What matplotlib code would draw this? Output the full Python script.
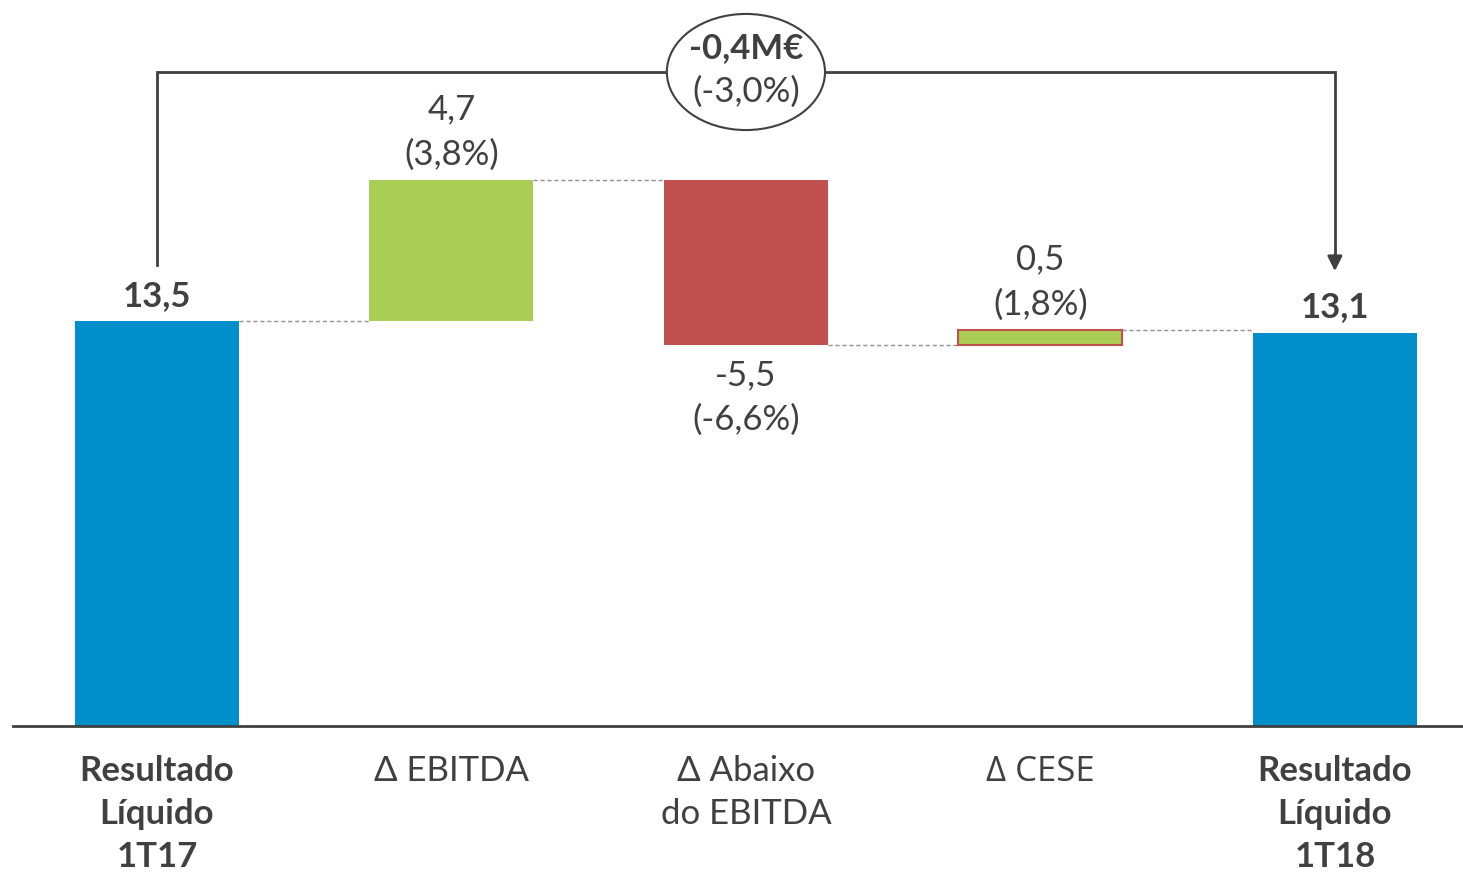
import matplotlib
matplotlib.use("Agg")
import matplotlib.pyplot as plt
from matplotlib.patches import Ellipse

categories = ["Resultado\nLíquido\n1T17", "Δ EBITDA", "Δ Abaixo\ndo EBITDA", "Δ CESE", "Resultado\nLíquido\n1T18"]
values = [13.5, 4.7, -5.5, 0.5, 13.1]
pct_labels = ["", "(3,8%)", "(-6,6%)", "(1,8%)", ""]
value_labels = ["13,5", "4,7", "-5,5", "0,5", "13,1"]
total_change = "-0,4M€"
total_pct = "(-3,0%)"

BLUE = "#008FCB"
GREEN = "#AACD55"
RED = "#C0504D"
TXT = "#404040"
FONT = ["Lato", "DejaVu Sans"]
FS = 25

plt.rcParams['font.family'] = FONT

fig = plt.figure(figsize=(14.63, 8.75), dpi=100)
ax = fig.add_axes([0, 0, 1, 1])
ax.set_xlim(-0.533, 4.435)
ax.set_ylim(-4.967, 24.2)
ax.axis("off")

w = 0.557
bottoms = []
tops = []
running = 0.0
for i, v in enumerate(values):
    if i == 0 or i == len(values) - 1:
        bottoms.append(0.0)
        tops.append(v)
        running = v
    else:
        start = running
        end = running + v
        bottoms.append(min(start, end))
        tops.append(max(start, end))
        running = end

colors = [BLUE, GREEN, RED, GREEN, BLUE]
edges = [BLUE, GREEN, RED, RED, BLUE]
x = list(range(len(values)))
ax.bar(x, [t - b for t, b in zip(tops, bottoms)], bottom=bottoms, width=w,
       color=colors, edgecolor=edges, linewidth=[0, 0, 0, 1.5, 0], zorder=3)

# connectors
levels = []
running = 0.0
for i, v in enumerate(values[:-1]):
    running = v if i == 0 else running + v
    levels.append(running)
for i, lev in enumerate(levels):
    ax.plot([i + w / 2, i + 1 - w / 2], [lev, lev], ls=(0, (3, 2)), color="#909090", lw=1, zorder=2)

# baseline
ax.plot([-0.49, 4.435], [0, 0], color=TXT, lw=2, zorder=4)

# value labels
ax.text(0, tops[0] + 0.83, value_labels[0], ha="center", va="center", fontsize=FS, fontweight="bold", color=TXT)
ax.text(4, tops[4] + 0.87, value_labels[4], ha="center", va="center", fontsize=FS, fontweight="bold", color=TXT)
for i in (1, 3):
    ax.text(i, tops[i] + 2.35, value_labels[i], ha="center", va="center", fontsize=FS, color=TXT)
    ax.text(i, tops[i] + 0.85, pct_labels[i], ha="center", va="center", fontsize=FS, color=TXT)
ax.text(2, bottoms[2] - 1.0, value_labels[2], ha="center", va="center", fontsize=FS, color=TXT)
ax.text(2, bottoms[2] - 2.5, pct_labels[2], ha="center", va="center", fontsize=FS, color=TXT)

# category labels
for i, c in enumerate(categories):
    bold = i in (0, 4)
    fam = ["Open Sans", "DejaVu Sans"] if c == "Δ CESE" else FONT
    ax.text(i, -0.97, c, ha="center", va="top", fontsize=FS, linespacing=1.43,
            fontweight="bold" if bold else "normal", color=TXT, family=fam)

# bracket
ytop = 21.8
ax.plot([0, 0, 4, 4], [15.37, ytop, ytop, 15.6], color=TXT, lw=2, zorder=3, solid_joinstyle="miter")
ax.annotate("", xy=(4, 15.07), xytext=(4, 15.8),
            arrowprops=dict(arrowstyle="-|>", color=TXT, lw=2, mutation_scale=22), zorder=3)
ell = Ellipse((2, ytop), width=0.537, height=3.87, facecolor="white", edgecolor=TXT, lw=1.5, zorder=5)
ax.add_patch(ell)
ax.text(2, 22.6, total_change, ha="center", va="center", fontsize=FS, fontweight="bold", color=TXT, zorder=6)
ax.text(2, 21.13, total_pct, ha="center", va="center", fontsize=FS, color=TXT, zorder=6)

fig.savefig("out.png", dpi=100, facecolor="white")
